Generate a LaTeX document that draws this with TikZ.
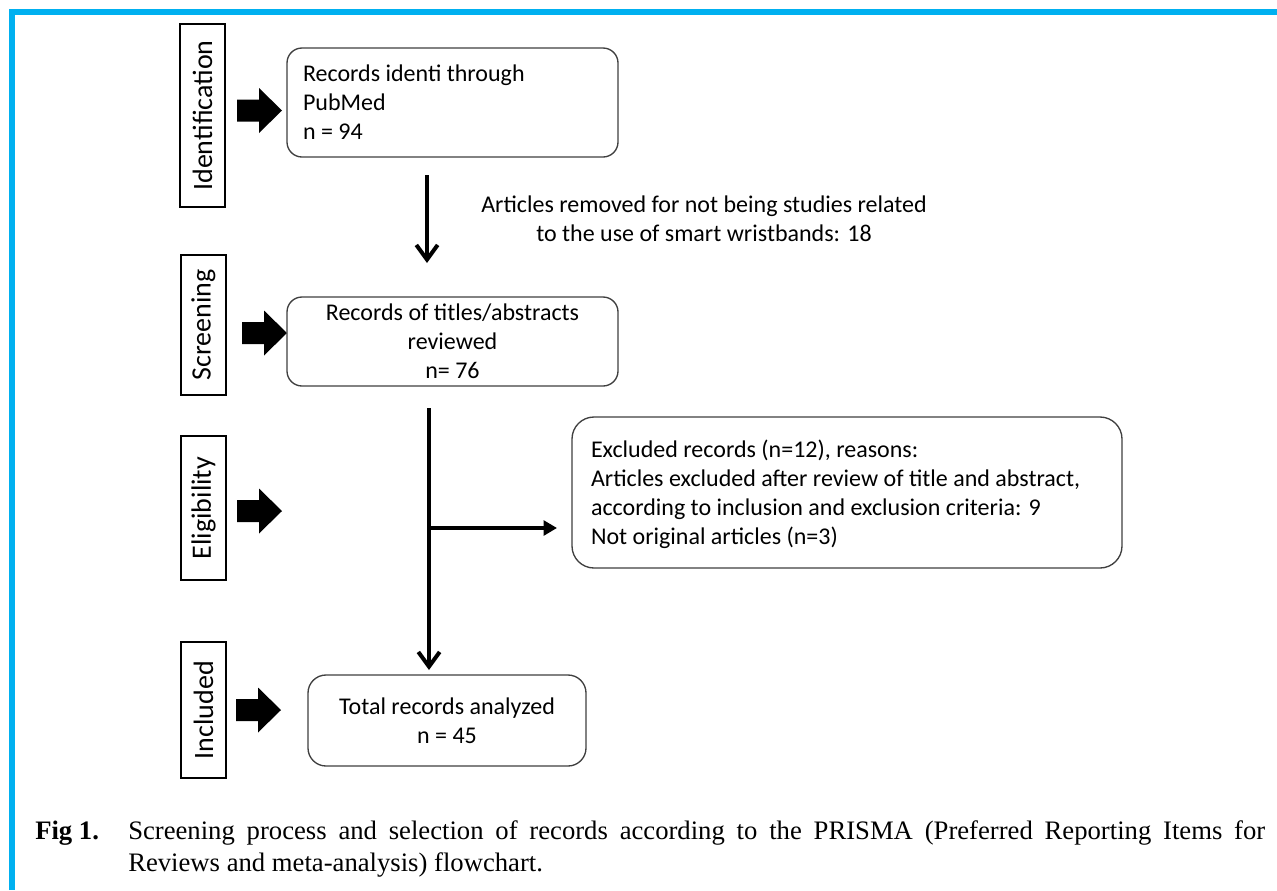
\documentclass[tikz,border=0pt]{standalone}
\usepackage{fontspec}
\setmainfont{Carlito}
\newfontfamily\capfont{Liberation Serif}
\usetikzlibrary{arrows.meta}
\definecolor{frameblue}{HTML}{00B0F0}
\definecolor{boxgray}{HTML}{404040}
\tikzset{
  stage/.style={draw=black, line width=0.9pt, rotate=90, minimum height=33.75pt, inner sep=0pt,
    font=\fontsize{21pt}{24pt}\selectfont},
  rbox/.style={draw=boxgray, line width=1pt, inner sep=0pt,
    font=\fontsize{18pt}{21.75pt}\selectfont},
  flow/.style={line width=3pt, -{Straight Barb[length=11pt,width=16pt]}},
  side/.style={line width=3pt, -{Triangle[length=10pt,width=11pt]}},
  blockarrow/.style={fill=black},
}
\newcommand\blockarr[2]{%
  \fill[blockarrow] (#1,#2-11) -- (#1+22,#2-11) -- (#1+22,#2-22.5) -- (#1+45,#2)
    -- (#1+22,#2+22.5) -- (#1+22,#2+11) -- (#1,#2+11) -- cycle;}
\begin{document}
\begin{tikzpicture}[x=0.75pt,y=-0.75pt]
\useasboundingbox (0,0) rectangle (1277,890);
\fill[white] (0,0) rectangle (1277,890);
% frame
\draw[frameblue, line width=4.5pt] (12,890) -- (12,12) -- (1277,12);

% stage labels
\node[stage, minimum width=137.25pt] (sid) at (202.5,115.5) {Identification};
\node[stage, minimum width=105pt] (ssc) at (203.5,325) {Screening};
\node[stage, minimum width=108pt] (sel) at (203.5,508) {Eligibility};
\node[stage, minimum width=102pt] (sin) at (203.5,710) {Included};

% block arrows
\blockarr{237}{110.5}
\blockarr{242}{333}
\blockarr{237}{511}
\blockarr{236}{710}

% boxes
\node[rbox, rounded corners=11.25pt, minimum width=248.25pt, minimum height=81.75pt,
  text width=224.25pt, align=flush left] (b1) at (452.5,102.5)
  {Records identi through\\PubMed\\n = 94};
\node[rbox, rounded corners=11.25pt, minimum width=248.25pt, minimum height=66.75pt,
  align=center] (b2) at (452.5,341.5)
  {Records of titles/abstracts\\reviewed\\n= 76};
\node[rbox, rounded corners=16.5pt, minimum width=412.5pt, minimum height=113.25pt,
  text width=384pt, align=flush left] (b3) at (847,492.5)
  {\rule{0pt}{16.5pt}Excluded records (n=12), reasons:\\Articles excluded after review of title and abstract,\\according to inclusion and exclusion criteria: 9\\Not original articles (n=3)};
\node[rbox, rounded corners=13.5pt, minimum width=208.5pt, minimum height=68.25pt,
  align=center] (b4) at (447,720.5)
  {Total records analyzed\\n = 45};

\node[font=\fontsize{18pt}{21.75pt}\selectfont, align=center, inner sep=0pt] (rem) at (704,219)
  {Articles removed for not being studies related\\to the use of smart wristbands: 18};

% connectors
\coordinate (d1s) at (427,175);
\coordinate (d1e) at (427,263);
\draw[flow] (d1s) -- (d1e);
\coordinate (d2s) at (429,408);
\coordinate (d2e) at (429,670);
\coordinate (br) at (429,528);
\coordinate (bre) at (557,528);
\draw[flow] (d2s) -- (d2e);
\draw[side] (br) -- (bre);

% caption
\node[anchor=base west, inner sep=0pt, font=\capfont\fontsize{20pt}{24pt}\selectfont\bfseries] (fig) at (35,839) {Fig 1.};
\node[anchor=base west, inner sep=0pt, font=\capfont\fontsize{20pt}{24pt}\selectfont] (cap) at (128,839)
  {\parbox[t]{852.75pt}{Screening process and selection of records according to the PRISMA (Preferred Reporting Items for\linebreak Reviews and meta-analysis) flowchart.}};
\end{tikzpicture}
\end{document}
